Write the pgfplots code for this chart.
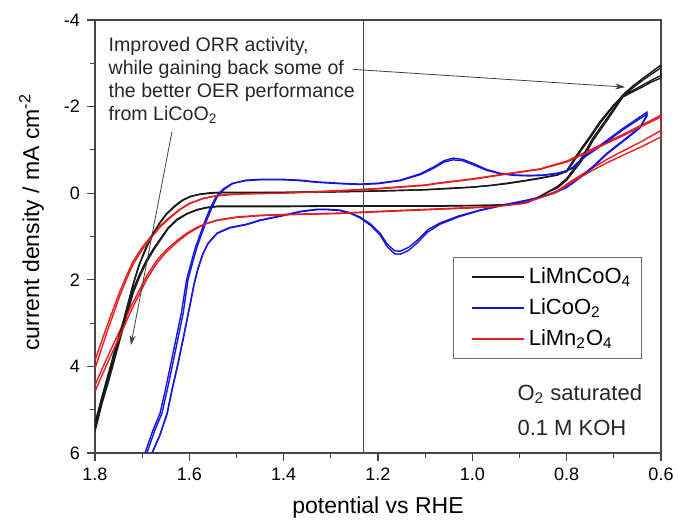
\documentclass[border=0pt]{standalone}
\usepackage{pgfplots}
\pgfplotsset{compat=1.18}
\usepackage{fontspec}
\setmainfont{Liberation Sans}
\usetikzlibrary{arrows.meta}
\definecolor{cvblack}{RGB}{25,25,25}
\definecolor{cvblue}{RGB}{20,20,225}
\definecolor{cvred}{RGB}{230,30,30}
\definecolor{axgray}{RGB}{70,70,70}
\begin{document}
\begin{tikzpicture}
\useasboundingbox (-47.5pt,-33pt) rectangle (291.5pt,226.5pt);
\begin{axis}[
 scale only axis, width=283pt, height=216.5pt,
 x dir=reverse, y dir=reverse,
 xmin=0.6, xmax=1.8, ymin=-4, ymax=6,
 xtick={0.6,0.8,1.0,1.2,1.4,1.6,1.8}, xticklabels={0.6,0.8,1.0,1.2,1.4,1.6,1.8},
 ytick={-4,-2,0,2,4,6}, yticklabels={-4,-2,0,2,4,6},
 minor x tick num=1, minor y tick num=1,
 tick align=outside, tick pos=left,
 major tick length=4pt, minor tick length=2.5pt,
 axis line style={axgray, line width=0.8pt},
 every tick/.style={axgray, line width=0.6pt},
 tick label style={font=\fontsize{9}{10}\selectfont},
 xlabel={potential vs RHE},
 ylabel={current density / mA cm\textsuperscript{-2}},
 label style={font=\fontsize{11.5}{13}\selectfont},
 xlabel style={at={(axis description cs:0.5,-0.127)}, anchor=center},
 ylabel style={at={(axis description cs:-0.112,0.533)}, anchor=center},
 legend style={at={(axis description cs:0.966,0.453)}, anchor=north east,
   draw=axgray!80, line width=0.5pt, font=\fontsize{11}{13}\selectfont,
   row sep=2pt, inner xsep=3pt, inner ysep=3pt},
 legend cell align=left,
 legend image code/.code={\path (0pt,0pt); \draw[#1, line width=0.8pt] (6pt,0pt) -- (32pt,0pt);},
]
% LiMnCoO4 cycle 1
\addplot[cvblack, line width=0.7pt] table[row sep=\\] {
x y\\
1.800 5.30\\ 1.784 4.65\\ 1.768 4.02\\ 1.755 3.50\\ 1.741 3.00\\ 1.730 2.55\\ 1.719 2.10\\ 1.705 1.62\\ 1.690 1.24\\ 1.677 0.95\\ 1.662 0.68\\ 1.647 0.47\\ 1.630 0.30\\ 1.613 0.16\\ 1.595 0.07\\ 1.577 0.02\\ 1.555 -0.01\\ 1.535 -0.02\\ 1.500 -0.02\\ 1.450 -0.02\\ 1.400 -0.02\\ 1.300 -0.03\\ 1.200 -0.05\\ 1.100 -0.08\\ 1.040 -0.12\\ 1.000 -0.14\\ 0.960 -0.18\\ 0.927 -0.23\\ 0.890 -0.29\\ 0.857 -0.35\\ 0.820 -0.42\\ 0.800 -0.50\\ 0.787 -0.70\\ 0.770 -0.98\\ 0.750 -1.28\\ 0.729 -1.62\\ 0.700 -2.02\\ 0.680 -2.28\\ 0.659 -2.48\\ 0.640 -2.64\\ 0.620 -2.80\\ 0.600 -2.96\\
0.600 -2.66\\ 0.620 -2.57\\ 0.640 -2.45\\ 0.660 -2.34\\ 0.681 -2.22\\ 0.710 -1.75\\ 0.744 -1.22\\ 0.770 -0.72\\ 0.800 -0.30\\ 0.820 -0.12\\ 0.835 -0.05\\ 0.860 0.10\\ 0.884 0.22\\ 0.920 0.26\\ 0.963 0.28\\ 1.069 0.30\\ 1.200 0.30\\ 1.300 0.30\\ 1.400 0.31\\ 1.500 0.31\\ 1.541 0.31\\ 1.565 0.34\\ 1.584 0.39\\ 1.605 0.48\\ 1.626 0.62\\ 1.645 0.82\\ 1.662 1.09\\ 1.676 1.32\\ 1.690 1.58\\ 1.705 1.92\\ 1.719 2.30\\ 1.732 2.80\\ 1.745 3.30\\ 1.758 3.82\\ 1.770 4.30\\ 1.785 4.85\\ 1.800 5.50\\
};
\addlegendentry{LiMnCoO\textsubscript{4}}
% LiCoO2 cycle 1
\addplot[cvblue, line width=0.7pt] table[row sep=\\] {
x y\\
1.690 6.00\\ 1.674 5.50\\ 1.658 5.08\\ 1.646 4.50\\ 1.635 3.93\\ 1.624 3.35\\ 1.613 2.77\\ 1.603 2.01\\ 1.593 1.60\\ 1.584 1.25\\ 1.573 0.92\\ 1.563 0.62\\ 1.552 0.33\\ 1.541 0.09\\ 1.525 -0.10\\ 1.507 -0.23\\ 1.480 -0.30\\ 1.450 -0.32\\ 1.401 -0.32\\ 1.365 -0.30\\ 1.329 -0.26\\ 1.281 -0.23\\ 1.238 -0.21\\ 1.200 -0.23\\ 1.153 -0.30\\ 1.110 -0.45\\ 1.083 -0.60\\ 1.060 -0.75\\ 1.041 -0.81\\ 1.020 -0.78\\ 0.999 -0.69\\ 0.970 -0.55\\ 0.941 -0.46\\ 0.910 -0.42\\ 0.880 -0.41\\ 0.850 -0.42\\ 0.821 -0.46\\ 0.800 -0.52\\ 0.787 -0.60\\ 0.760 -0.88\\ 0.730 -1.10\\ 0.715 -1.22\\ 0.680 -1.50\\ 0.645 -1.76\\ 0.630 -1.87\\
0.630 -1.80\\ 0.645 -1.52\\ 0.680 -1.22\\ 0.715 -0.92\\ 0.744 -0.62\\ 0.772 -0.37\\ 0.800 -0.15\\ 0.829 0.00\\ 0.860 0.10\\ 0.884 0.16\\ 0.930 0.26\\ 0.984 0.39\\ 1.030 0.53\\ 1.069 0.69\\ 1.095 0.85\\ 1.117 1.09\\ 1.135 1.25\\ 1.153 1.34\\ 1.165 1.33\\ 1.180 1.18\\ 1.196 0.92\\ 1.215 0.72\\ 1.238 0.55\\ 1.260 0.45\\ 1.281 0.39\\ 1.310 0.37\\ 1.329 0.37\\ 1.365 0.42\\ 1.401 0.51\\ 1.450 0.62\\ 1.480 0.72\\ 1.514 0.79\\ 1.541 0.92\\ 1.560 1.15\\ 1.571 1.39\\ 1.582 1.75\\ 1.590 2.10\\ 1.599 2.60\\ 1.612 3.30\\ 1.624 3.93\\ 1.636 4.50\\ 1.647 5.08\\ 1.663 5.60\\ 1.679 6.00\\
};
\addlegendentry{LiCoO\textsubscript{2}}
% LiMn2O4 cycle 1
\addplot[cvred, line width=0.7pt] table[row sep=\\] {
x y\\
1.800 3.86\\ 1.787 3.45\\ 1.775 3.08\\ 1.760 2.64\\ 1.747 2.26\\ 1.733 1.90\\ 1.719 1.57\\ 1.700 1.25\\ 1.683 1.02\\ 1.662 0.75\\ 1.641 0.55\\ 1.620 0.37\\ 1.599 0.23\\ 1.570 0.12\\ 1.541 0.05\\ 1.500 0.02\\ 1.450 0.00\\ 1.400 -0.01\\ 1.281 -0.06\\ 1.200 -0.11\\ 1.100 -0.19\\ 1.069 -0.24\\ 1.000 -0.33\\ 0.927 -0.45\\ 0.857 -0.56\\ 0.800 -0.74\\ 0.750 -1.00\\ 0.715 -1.18\\ 0.680 -1.36\\ 0.640 -1.58\\ 0.600 -1.80\\
0.600 -1.45\\ 0.640 -1.20\\ 0.680 -0.98\\ 0.715 -0.78\\ 0.750 -0.55\\ 0.790 -0.28\\ 0.821 -0.05\\ 0.857 0.10\\ 0.893 0.23\\ 0.950 0.30\\ 1.000 0.33\\ 1.069 0.36\\ 1.200 0.42\\ 1.281 0.46\\ 1.400 0.49\\ 1.450 0.51\\ 1.500 0.55\\ 1.541 0.62\\ 1.565 0.70\\ 1.584 0.79\\ 1.605 0.92\\ 1.626 1.09\\ 1.648 1.30\\ 1.669 1.55\\ 1.690 1.90\\ 1.705 2.22\\ 1.725 2.64\\ 1.740 3.00\\ 1.755 3.35\\ 1.770 3.70\\ 1.785 4.06\\ 1.800 4.43\\
};
\addlegendentry{LiMn\textsubscript{2}O\textsubscript{4}}
% cycle 2 curves
\addplot[cvblack, line width=0.7pt, forget plot] table[row sep=\\] {
x y\\
1.800 5.45\\ 1.785 4.78\\ 1.770 4.15\\ 1.757 3.62\\ 1.743 3.10\\ 1.732 2.64\\ 1.721 2.18\\ 1.708 1.70\\ 1.693 1.28\\ 1.679 0.97\\ 1.664 0.70\\ 1.649 0.48\\ 1.632 0.30\\ 1.615 0.16\\ 1.597 0.07\\ 1.579 0.03\\ 1.555 0.00\\ 1.535 -0.01\\ 1.450 -0.01\\ 1.300 -0.03\\ 1.200 -0.05\\ 1.100 -0.08\\ 1.040 -0.11\\ 1.000 -0.14\\ 0.960 -0.18\\ 0.927 -0.22\\ 0.890 -0.28\\ 0.857 -0.34\\ 0.820 -0.42\\ 0.800 -0.52\\ 0.787 -0.74\\ 0.770 -1.02\\ 0.750 -1.32\\ 0.729 -1.66\\ 0.700 -2.04\\ 0.680 -2.26\\ 0.659 -2.44\\ 0.640 -2.60\\ 0.620 -2.75\\ 0.600 -2.90\\
0.600 -2.72\\ 0.620 -2.61\\ 0.640 -2.49\\ 0.660 -2.37\\ 0.681 -2.25\\ 0.710 -1.80\\ 0.744 -1.28\\ 0.770 -0.78\\ 0.800 -0.34\\ 0.820 -0.15\\ 0.835 -0.06\\ 0.860 0.09\\ 0.884 0.21\\ 0.920 0.26\\ 0.963 0.28\\ 1.069 0.29\\ 1.200 0.29\\ 1.300 0.29\\ 1.400 0.30\\ 1.500 0.30\\ 1.541 0.30\\ 1.565 0.33\\ 1.584 0.38\\ 1.605 0.47\\ 1.626 0.60\\ 1.645 0.80\\ 1.662 1.06\\ 1.676 1.28\\ 1.690 1.53\\ 1.705 1.86\\ 1.719 2.22\\ 1.732 2.70\\ 1.745 3.20\\ 1.758 3.72\\ 1.770 4.20\\ 1.785 4.75\\ 1.800 5.38\\
};
\addplot[cvblue, line width=0.7pt, forget plot] table[row sep=\\] {
x y\\
1.694 6.00\\ 1.678 5.50\\ 1.662 5.08\\ 1.650 4.50\\ 1.639 3.93\\ 1.628 3.35\\ 1.617 2.77\\ 1.606 2.01\\ 1.596 1.60\\ 1.587 1.25\\ 1.576 0.92\\ 1.566 0.62\\ 1.555 0.33\\ 1.544 0.09\\ 1.528 -0.10\\ 1.510 -0.22\\ 1.480 -0.29\\ 1.450 -0.31\\ 1.401 -0.31\\ 1.365 -0.29\\ 1.329 -0.25\\ 1.281 -0.22\\ 1.238 -0.20\\ 1.200 -0.22\\ 1.153 -0.29\\ 1.110 -0.43\\ 1.083 -0.57\\ 1.060 -0.72\\ 1.041 -0.77\\ 1.020 -0.75\\ 0.999 -0.66\\ 0.970 -0.53\\ 0.941 -0.45\\ 0.910 -0.41\\ 0.880 -0.40\\ 0.850 -0.41\\ 0.821 -0.45\\ 0.800 -0.51\\ 0.787 -0.58\\ 0.760 -0.85\\ 0.730 -1.07\\ 0.715 -1.19\\ 0.680 -1.47\\ 0.645 -1.72\\ 0.630 -1.82\\
0.630 -1.78\\ 0.645 -1.50\\ 0.680 -1.20\\ 0.715 -0.90\\ 0.744 -0.60\\ 0.772 -0.35\\ 0.800 -0.13\\ 0.829 0.01\\ 0.860 0.11\\ 0.884 0.17\\ 0.930 0.27\\ 0.984 0.40\\ 1.030 0.55\\ 1.069 0.72\\ 1.095 0.90\\ 1.117 1.15\\ 1.135 1.32\\ 1.153 1.41\\ 1.165 1.40\\ 1.180 1.24\\ 1.196 0.96\\ 1.215 0.75\\ 1.238 0.57\\ 1.260 0.46\\ 1.281 0.40\\ 1.310 0.38\\ 1.329 0.38\\ 1.365 0.43\\ 1.401 0.52\\ 1.450 0.63\\ 1.480 0.73\\ 1.514 0.80\\ 1.541 0.93\\ 1.560 1.16\\ 1.571 1.40\\ 1.582 1.76\\ 1.590 2.11\\ 1.599 2.61\\ 1.612 3.31\\ 1.624 3.94\\ 1.636 4.51\\ 1.647 5.09\\ 1.663 5.61\\ 1.679 6.00\\
};
\addplot[cvred, line width=0.7pt, forget plot] table[row sep=\\] {
x y\\
1.800 4.05\\ 1.787 3.62\\ 1.775 3.22\\ 1.760 2.76\\ 1.747 2.36\\ 1.733 1.98\\ 1.719 1.64\\ 1.700 1.30\\ 1.683 1.06\\ 1.662 0.78\\ 1.641 0.57\\ 1.620 0.38\\ 1.599 0.24\\ 1.570 0.12\\ 1.541 0.06\\ 1.500 0.02\\ 1.450 0.01\\ 1.400 0.00\\ 1.281 -0.05\\ 1.200 -0.10\\ 1.100 -0.18\\ 1.069 -0.23\\ 1.000 -0.32\\ 0.927 -0.44\\ 0.857 -0.55\\ 0.800 -0.72\\ 0.750 -0.97\\ 0.715 -1.15\\ 0.680 -1.33\\ 0.640 -1.55\\ 0.600 -1.76\\
0.600 -1.30\\ 0.640 -1.08\\ 0.680 -0.88\\ 0.715 -0.70\\ 0.750 -0.50\\ 0.790 -0.25\\ 0.821 -0.03\\ 0.857 0.11\\ 0.893 0.24\\ 0.950 0.31\\ 1.000 0.34\\ 1.069 0.37\\ 1.200 0.43\\ 1.281 0.47\\ 1.400 0.50\\ 1.450 0.52\\ 1.500 0.56\\ 1.541 0.63\\ 1.565 0.71\\ 1.584 0.81\\ 1.605 0.95\\ 1.626 1.13\\ 1.648 1.35\\ 1.669 1.62\\ 1.690 1.98\\ 1.705 2.31\\ 1.725 2.75\\ 1.740 3.12\\ 1.755 3.48\\ 1.770 3.84\\ 1.785 4.20\\ 1.800 4.58\\
};
% reference line and annotations
\draw[axgray, line width=0.6pt] (axis cs:1.23,-4) -- (axis cs:1.23,6);
\node[anchor=north west, align=left, inner sep=0pt, font=\fontsize{9.8}{11.5}\selectfont, text=black!85]
  at (axis cs:1.772,-3.60) {Improved ORR activity,\\while gaining back some of\\the better OER performance\\from LiCoO\textsubscript{2}};
\draw[black!75, line width=0.4pt, -{Stealth[length=5pt,width=3pt]}] (axis cs:1.253,-2.86) -- (axis cs:0.676,-2.45);
\draw[black!75, line width=0.4pt, -{Stealth[length=5pt,width=3pt]}] (axis cs:1.637,-1.41) -- (axis cs:1.724,3.51);
\node[anchor=base west, inner sep=0pt, font=\fontsize{11}{13}\selectfont, text=black!85] at (axis cs:0.905,4.78) {O\textsubscript{2} saturated};
\node[anchor=base west, inner sep=0pt, font=\fontsize{11}{13}\selectfont, text=black!85] at (axis cs:0.905,5.59) {0.1 M KOH};
\end{axis}
\end{tikzpicture}
\end{document}
